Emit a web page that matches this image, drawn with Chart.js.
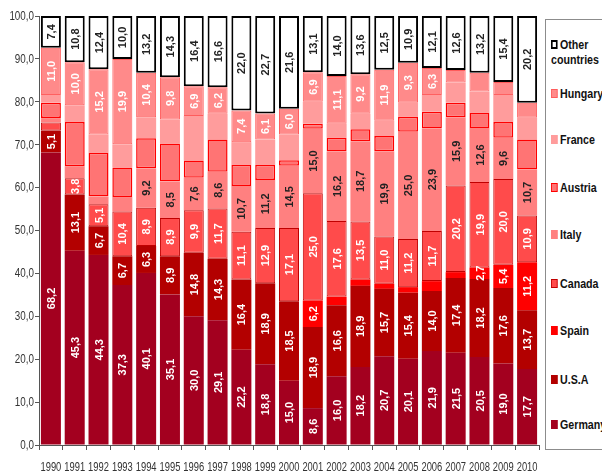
<!DOCTYPE html>
<html>
<head>
<meta charset="utf-8">
<script src="https://cdn.jsdelivr.net/npm/chart.js@4/dist/chart.umd.min.js"></script>
<style>
  html, body { margin: 0; padding: 0; background: #fff; }
  #wrap { position: relative; width: 602px; height: 473px; overflow: hidden; }
  #legend {
    position: absolute; left: 545px; top: 19px; width: 80px; height: 431px;
    border: 1px solid #8c8c8c; box-sizing: border-box; background: #fff;
    font-family: "Liberation Sans", Arial, sans-serif;
    font-weight: bold; font-size: 13px; color: #111;
  }
  .item { position: absolute; left: 5px; line-height: 15px; white-space: nowrap;
          transform: scaleX(0.82); transform-origin: 0 0; }
  .mark { display: inline-block; width: 6px; height: 7px; border: 1px solid; margin-right: 3px; vertical-align: 0px; }
</style>
</head>
<body>
<div id="wrap">
  <canvas id="c" width="602" height="473"></canvas>
  <div id="legend"></div>
</div>
<script>
// Share of each country per year (%), stacked from bottom to top
const years = ["1990","1991","1992","1993","1994","1995","1996","1997","1998","1999","2000",
               "2001","2002","2003","2004","2005","2006","2007","2008","2009","2010"];
const germany = [68.2,45.3,44.3,37.3,40.1,35.1,30.0,29.1,22.2,18.8,15.0,8.6,16.0,18.2,20.7,20.1,21.9,21.5,20.5,19.0,17.7];
const usa     = [5.1,13.1,6.7,6.7,6.3,8.9,14.8,14.3,16.4,18.9,18.5,18.9,16.6,18.9,15.7,15.4,14.0,17.4,18.2,17.6,13.7];
const spain   = [0,0,0,0,0,0,0,0,0,0,0,6.2,2.0,1.5,1.2,1.3,2.3,1.4,2.7,5.4,11.2];
const canada  = [1.9,3.8,5.1,10.4,8.9,8.9,9.9,11.7,11.1,12.9,17.1,25.0,17.6,13.5,11.0,11.2,11.7,20.2,19.9,20.0,10.9];
const italy   = [1.0,2.8,1.8,3.4,9.2,8.5,7.6,8.6,10.7,11.2,14.5,15.0,16.2,18.7,19.9,25.0,23.9,15.9,12.6,9.6,10.7];
const austria = [3.6,10.3,10.2,6.9,7.0,8.9,4.0,7.5,4.9,3.5,1.3,1.2,3.2,2.8,3.5,3.5,3.9,3.4,3.5,3.7,7.0];
const france  = [1.8,3.9,4.3,5.4,4.9,5.6,10.4,6.0,5.3,5.9,6.0,5.1,3.3,3.6,3.6,3.3,3.9,4.7,5.0,6.3,5.1];
const hungary = [11.0,10.0,15.2,19.9,10.4,9.8,6.9,6.2,7.4,6.1,6.0,6.9,11.1,9.2,11.9,9.3,6.3,2.9,4.4,3.0,3.5];
const other   = [7.4,10.8,12.4,10.0,13.2,14.3,16.4,16.6,22.0,22.7,21.6,13.1,14.0,13.6,12.5,10.9,12.1,12.6,13.2,15.4,20.2];
const yTicks  = [0,10,20,30,40,50,60,70,80,90,100];

const fmt = v => v.toFixed(1).replace('.', ',');

// name, values, fill, border, border width, label colour, smallest value that gets a label
const series = [
  ["Germany", germany, "#a3001f", "#a3001f", 0, "#fff", 0],
  ["U.S.A",   usa,     "#b30000", "#b30000", 0, "#fff", 0],
  ["Spain",   spain,   "#ff0000", "#ff0000", 0, "#fff", 2.5],
  ["Canada",  canada,  "#ff4b4b", "#c00000", 1, "#fff", 3.5],
  ["Italy",   italy,   "#ff8080", "#ff8080", 0, "#222", 5],
  ["Austria", austria, "#ff7474", "#ff0000", 1.5, "#fff", Infinity],
  ["France",  france,  "#ff9c9c", "#ff9c9c", 0, "#222", Infinity],
  ["Hungary", hungary, "#ff8a8a", "#ff5c5c", 1, "#fff", 5],
  ["Other countries", other, "#ffffff", "#000000", 2, "#222", 0]
];

const datasets = series.map(s => ({
  label: s[0], data: s[1], backgroundColor: s[2], borderColor: s[3],
  borderWidth: s[4], borderSkipped: false,
  labelColor: s[5], labelMin: s[6]
}));

// Vertical value labels centred in each segment
const segmentLabels = {
  id: 'segmentLabels',
  afterDatasetsDraw(chart) {
    const ctx = chart.ctx;
    ctx.save();
    ctx.font = 'bold 11px "Liberation Sans", Arial, sans-serif';
    ctx.textAlign = 'center';
    ctx.textBaseline = 'middle';
    chart.data.datasets.forEach((ds, i) => {
      const meta = chart.getDatasetMeta(i);
      meta.data.forEach((bar, j) => {
        const v = ds.data[j];
        if (!v || v < ds.labelMin) return;
        const cy = (bar.y + bar.base) / 2;
        ctx.save();
        ctx.translate(bar.x, cy);
        ctx.rotate(-Math.PI / 2);
        ctx.fillStyle = ds.labelColor;
        ctx.fillText(fmt(v), 0, 1);
        ctx.restore();
      });
    });
    ctx.restore();
  }
};

// Narrow axis labels (horizontally compressed Liberation Sans)
const narrowTicks = {
  id: 'narrowTicks',
  afterDraw(chart) {
    const ctx = chart.ctx;
    const xs = chart.scales.x, ys = chart.scales.y;
    ctx.save();
    ctx.font = '12px "Liberation Sans", Arial, sans-serif';
    ctx.fillStyle = '#333';
    ctx.textBaseline = 'middle';
    ctx.textAlign = 'center';
    years.forEach((lab, i) => {
      ctx.save();
      ctx.translate(xs.getPixelForTick(i), 468);
      ctx.scale(0.78, 1);
      ctx.fillText(lab, 0, 0);
      ctx.restore();
    });
    ctx.textAlign = 'right';
    yTicks.forEach(v => {
      ctx.save();
      ctx.translate(34, ys.getPixelForValue(v) + 0.5);
      ctx.scale(0.82, 1);
      ctx.fillText(fmt(v), 0, 0);
      ctx.restore();
    });
    ctx.restore();
  }
};

new Chart(document.getElementById('c'), {
  type: 'bar',
  data: { labels: years, datasets },
  options: {
    responsive: false,
    animation: false,
    layout: { padding: { top: 16, right: 63, left: 0, bottom: 0 } },
    plugins: { legend: { display: false }, tooltip: { enabled: false } },
    datasets: { bar: { categoryPercentage: 1, barPercentage: 0.84 } },
    scales: {
      x: {
        stacked: true,
        grid: { offset: true, drawOnChartArea: false, drawTicks: true, tickLength: 5, color: '#555' },
        border: { color: '#555' },
        ticks: { display: false, autoSkip: false },
        afterFit(s) { s.height = 28; }
      },
      y: {
        stacked: true, min: 0, max: 100,
        afterBuildTicks(s) { s.ticks = yTicks.map(v => ({ value: v })); },
        grid: { drawOnChartArea: false, drawTicks: true, tickLength: 4, color: '#555' },
        border: { color: '#555' },
        ticks: { display: false },
        afterFit(s) { s.width = 39; }
      }
    }
  },
  plugins: [segmentLabels, narrowTicks]
});

// Legend, top entry first
const legendTops = [36, 85, 131, 179, 226, 275, 322, 371, 416];
const legend = document.getElementById('legend');
series.slice().reverse().forEach((s, k) => {
  const d = document.createElement('div');
  d.className = 'item';
  d.style.top = (legendTops[k] - 19) + 'px';
  const m = document.createElement('span');
  m.className = 'mark';
  m.style.background = s[2];
  m.style.borderColor = s[4] ? s[3] : s[2];
  if (s[0] === 'Other countries') { m.style.borderWidth = '2px'; m.style.width = '4px'; m.style.height = '5px'; }
  d.appendChild(m);
  if (s[0] === 'Other countries') {
    d.appendChild(document.createTextNode('Other'));
    d.appendChild(document.createElement('br'));
    d.appendChild(document.createTextNode('countries'));
  } else {
    d.appendChild(document.createTextNode(s[0]));
  }
  legend.appendChild(d);
});
</script>
</body>
</html>
